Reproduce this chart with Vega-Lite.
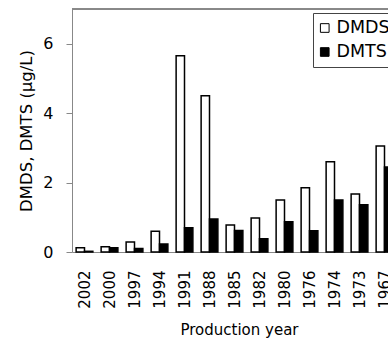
{
  "$schema": "https://vega.github.io/schema/vega-lite/v6.json",
  "width": 316,
  "height": 243,
  "autosize": {"type": "none"},
  "padding": {"left": 72, "top": 9, "right": 0, "bottom": 87},
  "background": "white",
  "config": {
    "view": {"stroke": null},
    "font": "DejaVu Sans",
    "axis": {"grid": false, "domainColor": "#888888", "tickColor": "#888888", "labelColor": "black", "titleColor": "black", "titleFontWeight": "normal"}
  },
  "data": {
    "values": [
      {"year": "2002", "compound": "DMDS", "value": 0.12},
      {"year": "2002", "compound": "DMTS", "value": 0.02},
      {"year": "2000", "compound": "DMDS", "value": 0.15},
      {"year": "2000", "compound": "DMTS", "value": 0.12},
      {"year": "1997", "compound": "DMDS", "value": 0.29},
      {"year": "1997", "compound": "DMTS", "value": 0.1},
      {"year": "1994", "compound": "DMDS", "value": 0.6},
      {"year": "1994", "compound": "DMTS", "value": 0.23},
      {"year": "1991", "compound": "DMDS", "value": 5.65},
      {"year": "1991", "compound": "DMTS", "value": 0.7},
      {"year": "1988", "compound": "DMDS", "value": 4.5},
      {"year": "1988", "compound": "DMTS", "value": 0.95},
      {"year": "1985", "compound": "DMDS", "value": 0.78},
      {"year": "1985", "compound": "DMTS", "value": 0.62},
      {"year": "1982", "compound": "DMDS", "value": 0.98},
      {"year": "1982", "compound": "DMTS", "value": 0.38},
      {"year": "1980", "compound": "DMDS", "value": 1.5},
      {"year": "1980", "compound": "DMTS", "value": 0.87},
      {"year": "1976", "compound": "DMDS", "value": 1.85},
      {"year": "1976", "compound": "DMTS", "value": 0.61},
      {"year": "1974", "compound": "DMDS", "value": 2.6},
      {"year": "1974", "compound": "DMTS", "value": 1.5},
      {"year": "1973", "compound": "DMDS", "value": 1.67},
      {"year": "1973", "compound": "DMTS", "value": 1.36},
      {"year": "1967", "compound": "DMDS", "value": 3.05},
      {"year": "1967", "compound": "DMTS", "value": 2.45}
    ]
  },
  "layer": [
    {
      "mark": {"type": "bar", "stroke": "black", "strokeWidth": 1.5},
      "encoding": {
        "x": {
          "field": "year", "type": "nominal", "sort": null,
          "scale": {"range": [0, 325], "paddingInner": 0.33, "paddingOuter": 0.165},
          "axis": {"labelAngle": -90, "labelFontSize": 15, "labelPadding": 18, "ticks": false, "title": "Production year", "titleFontSize": 15, "titlePadding": 14, "titleX": 167}
        },
        "xOffset": {"field": "compound", "type": "nominal", "sort": ["DMDS", "DMTS"]},
        "y": {
          "field": "value", "type": "quantitative",
          "scale": {"domain": [0, 7], "nice": false},
          "axis": {"values": [0, 2, 4, 6], "tickSize": 6, "labelPadding": 13, "labelFontSize": 16, "title": "DMDS, DMTS (µg/L)", "titleFontSize": 16.5, "titlePadding": 8}
        },
        "fill": {
          "field": "compound", "type": "nominal",
          "scale": {"domain": ["DMDS", "DMTS"], "range": ["white", "black"]},
          "legend": {"orient": "none", "legendX": 241, "legendY": 4, "title": null, "strokeColor": "#444444", "fillColor": "white", "padding": 3, "symbolType": "square", "symbolSize": 75, "symbolStrokeColor": "black", "symbolStrokeWidth": 1, "labelFontSize": 17.5, "labelOffset": 3, "clipHeight": 24, "rowPadding": 0}
        }
      }
    },
    {
      "mark": {"type": "rule", "color": "#888888"},
      "encoding": {"y": {"datum": 7}}
    }
  ]
}
